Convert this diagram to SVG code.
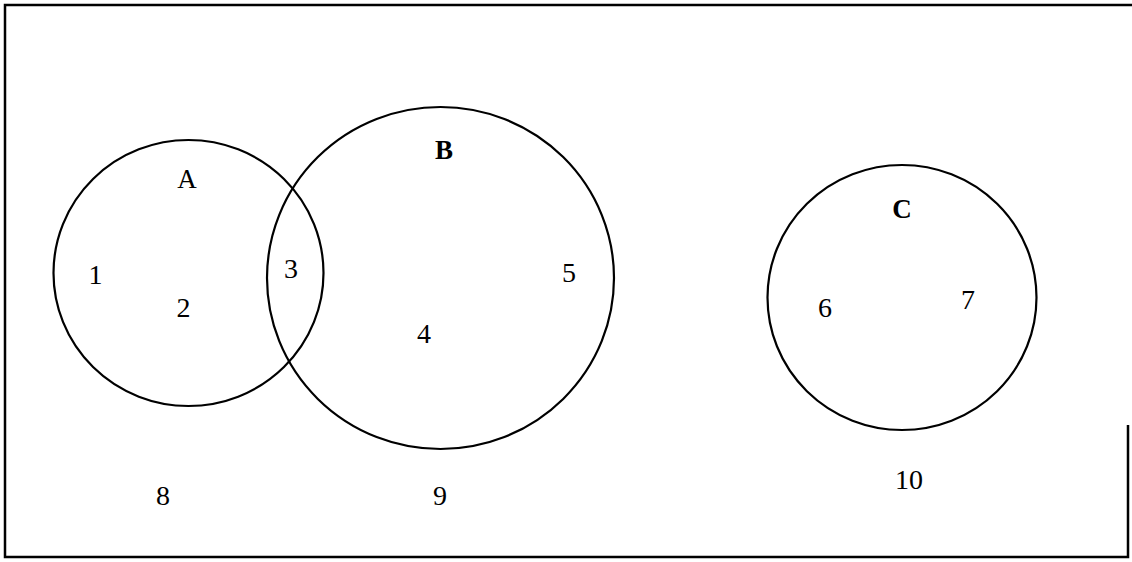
<svg xmlns="http://www.w3.org/2000/svg" width="1132" height="562" viewBox="0 0 1132 562">
<style>
.set{fill:none;stroke:#000;stroke-width:2.2}
.frame{fill:none;stroke:#000;stroke-width:2.5}
.lbl{font-family:"Liberation Serif","Times New Roman",serif;font-size:27px;font-weight:bold;fill:#000;text-anchor:middle}
.num{font-family:"Liberation Serif","Times New Roman",serif;font-size:28px;fill:#000;text-anchor:middle}
</style>
<rect width="1132" height="562" fill="#fff"/>
<path class="frame" d="M1128,425 V557 H5 V5 H1132"/>
<g id="setA">
<ellipse class="set" cx="188.5" cy="273" rx="135" ry="133"/>
<text class="lbl" x="187" y="188" style="font-weight:normal">A</text>
</g>
<g id="setB">
<ellipse class="set" cx="440.5" cy="278" rx="173.5" ry="171"/>
<text class="lbl" x="444" y="159">B</text>
</g>
<g id="setC">
<ellipse class="set" cx="902" cy="297.5" rx="134.5" ry="132.5"/>
<text class="lbl" x="902" y="218">C</text>
</g>
<g id="regions">
<text class="num" x="95.5" y="284">1</text>
<text class="num" x="183.5" y="317">2</text>
<text class="num" x="291" y="278">3</text>
<text class="num" x="424" y="343">4</text>
<text class="num" x="569" y="282">5</text>
<text class="num" x="825" y="317">6</text>
<text class="num" x="968" y="309">7</text>
<text class="num" x="163" y="505">8</text>
<text class="num" x="440" y="505">9</text>
<text class="num" x="909" y="489">10</text>
</g>
<g id="connectors"></g>
</svg>
